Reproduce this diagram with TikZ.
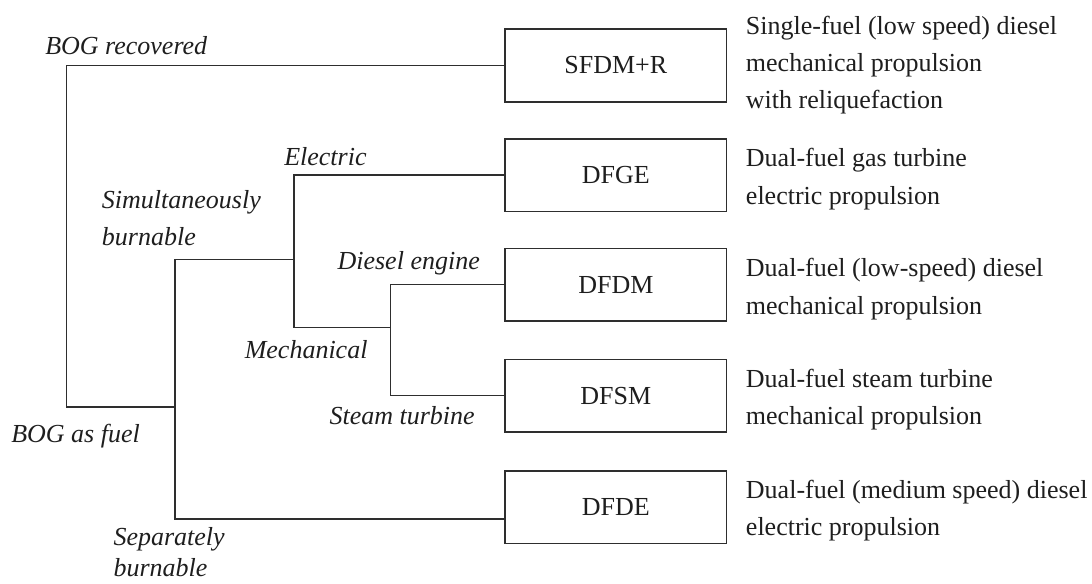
\documentclass[tikz,border=0pt]{standalone}
\usepackage{fontspec}
\setmainfont{Liberation Serif}
\definecolor{linec}{HTML}{2E2E2E}
\definecolor{txtc}{HTML}{1E1E1E}
\begin{document}
\begin{tikzpicture}[x=0.75pt,y=-0.75pt,
  box/.style={draw=linec, line width=1.1pt, minimum width=166.3pt, minimum height=54.5pt, inner sep=0pt, text=txtc, font=\fontsize{19.5}{24}\selectfont},
  lab/.style={anchor=base west, inner sep=0pt, text=txtc, font=\fontsize{19.5}{28}\selectfont\itshape},
  desc/.style={anchor=base west, inner sep=0pt, text=txtc, font=\fontsize{19.5}{28}\selectfont},
  conn/.style={draw=linec, line width=1.1pt}]
\useasboundingbox (0,0) rectangle (1092,583);

% boxes
\node[box] (sfdm) at (615.85,65.5) {SFDM+R};
\node[box] (dfge) at (615.85,175.2) {DFGE};
\node[box] (dfdm) at (615.85,284.7) {DFDM};
\node[box] (dfsm) at (615.85,395.7) {DFSM};
\node[box] (dfde) at (615.85,507.2) {DFDE};

% junction coordinates
\coordinate (fuel) at (66.7,407);
\coordinate (split) at (175,407);
\coordinate (simul) at (175,259.3);
\coordinate (sepa) at (175,519);
\coordinate (elmech) at (294,259.3);
\coordinate (mech) at (294,327.7);
\coordinate (mechj) at (390.7,327.7);

% connectors
\draw[conn] (sfdm.west) -| (fuel) -- (split);
\draw[conn] (simul) -- (sepa) -- (sepa -| dfde.west);
\draw[conn] (simul) -- (elmech);
\draw[conn] (dfge.west) -| (mech) -- (mechj);
\draw[conn] (dfdm.west) -| (mechj) |- (dfsm.west);

% branch labels
\node[lab] (lrec) at (45,54) {BOG recovered};
\node[lab] (lele) at (284,165) {Electric};
\node[lab] (lsim) at (101.7,208) {\begin{tabular}[t]{@{}l@{}}Simultaneously\\burnable\end{tabular}};
\node[lab] (ldie) at (337.3,269) {Diesel engine};
\node[lab] (lmec) at (244.5,358.3) {Mechanical};
\node[lab] (lste) at (329.3,424.7) {Steam turbine};
\node[lab] (lfue) at (11,442.3) {BOG as fuel};
\node[lab] (lsep) at (113.3,545) {\begin{tabular}[t]{@{}l@{}}Separately\\[-4.5pt]burnable\end{tabular}};

% descriptions
\node[desc] (dsfdm) at (745.7,34) {\begin{tabular}[t]{@{}l@{}}Single-fuel (low speed) diesel\\mechanical propulsion\\with reliquefaction\end{tabular}};
\node[desc] (ddfge) at (745.7,166.7) {\begin{tabular}[t]{@{}l@{}}Dual-fuel gas turbine\\electric propulsion\end{tabular}};
\node[desc] (ddfdm) at (745.7,276.7) {\begin{tabular}[t]{@{}l@{}}Dual-fuel (low-speed) diesel\\mechanical propulsion\end{tabular}};
\node[desc] (ddfsm) at (745.7,387.3) {\begin{tabular}[t]{@{}l@{}}Dual-fuel steam turbine\\mechanical propulsion\end{tabular}};
\node[desc] (ddfde) at (745.7,498.3) {\begin{tabular}[t]{@{}l@{}}Dual-fuel (medium speed) diesel\\electric propulsion\end{tabular}};
\end{tikzpicture}
\end{document}
